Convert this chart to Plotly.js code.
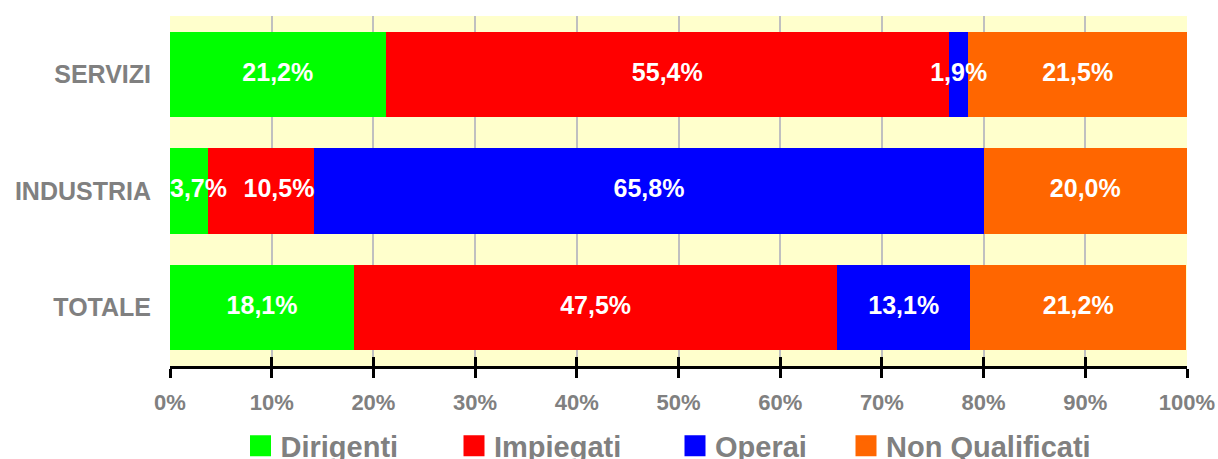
<!DOCTYPE html>
<html><head><meta charset="utf-8">
<script src="https://cdn.plot.ly/plotly-3.0.1.min.js"></script>
<style>html,body{margin:0;padding:0;background:#fff}#chart{width:1218px;height:459px}</style>
</head><body><div id="chart"></div>
<script>
const categories = ['SERVIZI', 'INDUSTRIA', 'TOTALE'];
const seriesNames = ['Dirigenti', 'Impiegati', 'Operai', 'Non Qualificati'];
const dirigenti = [21.2, 3.7, 18.1];
const impiegati = [55.4, 10.5, 47.5];
const operai = [1.9, 65.8, 13.1];
const nonQualificati = [21.5, 20.0, 21.2];
const colors = ['#00FF00', '#FF0000', '#0000FF', '#FF6600'];
const tickVals = [0, 10, 20, 30, 40, 50, 60, 70, 80, 90, 100];
const tickText = ['0%', '10%', '20%', '30%', '40%', '50%', '60%', '70%', '80%', '90%', '100%'];

const FONT = 'Liberation Sans, Arial, sans-serif';
const GRAY = '#808080';
const seriesValues = [dirigenti, impiegati, operai, nonQualificati];
const legendIds = ['legend', 'legend2', 'legend3', 'legend4'];
const fmt = v => v.toFixed(1).replace('.', ',') + '%';

const traces = [];
seriesValues.forEach((vals, i) => {
  traces.push({
    type: 'bar', orientation: 'h', name: seriesNames[i],
    y: categories, x: vals, showlegend: false,
    marker: {color: colors[i], line: {width: 0}},
    hoverinfo: 'skip'
  });
});

// value labels, placed from the stacked data so they can overflow narrow segments
const lx = [], ly = [], lt = [], lp = [];
categories.forEach((cat, c) => {
  let start = 0, prevSmallFirst = false;
  seriesValues.forEach((vals, i) => {
    const v = vals[c], end = start + v;
    if (i === 0 && v < 5) { lx.push(start); lp.push('middle right'); prevSmallFirst = true; }
    else if (prevSmallFirst) { lx.push(end); lp.push('middle left'); prevSmallFirst = false; }
    else { lx.push(start + v / 2); lp.push('middle center'); }
    ly.push(cat); lt.push(fmt(v));
    start = end;
  });
});
traces.push({
  type: 'scatter', mode: 'text', x: lx, y: ly, text: lt, textposition: lp,
  textfont: {family: FONT, size: 25, color: '#FFFFFF', weight: 'bold'},
  cliponaxis: false, showlegend: false, hoverinfo: 'skip'
});

seriesNames.forEach((n, i) => {
  traces.push({
    type: 'scatter', mode: 'markers', name: n, x: [null], y: [null],
    legend: legendIds[i], showlegend: true,
    marker: {symbol: 'square', size: 16, color: colors[i], line: {width: 5, color: colors[i]}}
  });
});
// overlay axis for the upper half of the crossing ticks
traces.push({type: 'scatter', mode: 'markers', x: [null], y: [null], xaxis: 'x2', showlegend: false, hoverinfo: 'skip'});

const L = 170, R = 1187;
const symCenters = [260.5, 474, 695, 866];
const legFont = {family: FONT, size: 29, color: GRAY, weight: 'bold'};
const layout = {
  width: 1218, height: 459,
  margin: {l: 170, r: 31, t: 16, b: 93, autoexpand: false},
  paper_bgcolor: '#FFFFFF', plot_bgcolor: '#FFFFCC',
  barmode: 'stack', bargap: 0.27,
  font: {family: FONT},
  xaxis: {
    range: [0, 100], tickmode: 'array', tickvals: tickVals, ticktext: tickText,
    showgrid: true, gridcolor: '#C0C0C0', gridwidth: 2, zeroline: false,
    showline: true, linecolor: '#000000', linewidth: 3,
    ticks: 'outside', ticklen: 9, tickwidth: 3, tickcolor: '#000000',
    ticklabelstandoff: 6,
    tickfont: {family: FONT, size: 22, color: GRAY, weight: 'bold'},
    fixedrange: true
  },
  xaxis2: {
    overlaying: 'x', anchor: 'y', side: 'bottom', range: [0, 100],
    tickmode: 'array', tickvals: tickVals,
    showgrid: false, zeroline: false, showline: false, showticklabels: false,
    ticks: 'inside', ticklen: 9, tickwidth: 3, tickcolor: '#000000'
  },
  yaxis: {
    autorange: 'reversed', type: 'category',
    showgrid: false, zeroline: false, showline: false, ticks: '',
    ticklabelstandoff: 18,
    tickfont: {family: FONT, size: 25, color: GRAY, weight: 'bold'},
    fixedrange: true
  },
  showlegend: true
};
legendIds.forEach((id, i) => {
  layout[id] = {
    orientation: 'h', xref: 'paper', yref: 'paper',
    x: (symCenters[i] - 20 - L) / (R - L), xanchor: 'left',
    y: -0.228, yanchor: 'middle',
    font: legFont, bgcolor: 'rgba(0,0,0,0)', borderwidth: 0
  };
});
Plotly.newPlot('chart', traces, layout, {displayModeBar: false, staticPlot: true});
</script></body></html>
